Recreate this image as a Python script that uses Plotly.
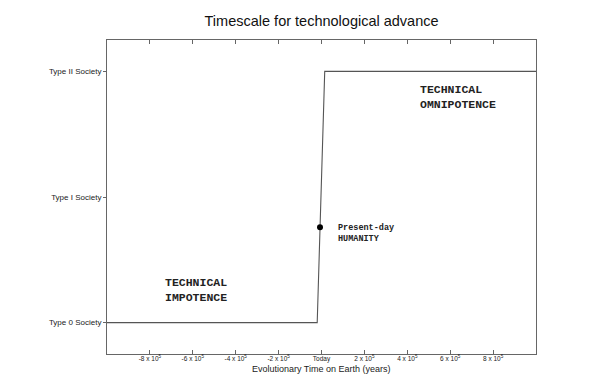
import plotly.graph_objects as go

# Data
time_years = [-1.0e6, -2.0e4, 1.5e4, 1.0e6]
society_level = [0, 0, 2, 2]
present_x = [-7.0e3]
present_y = [0.76]

x_tick_vals = [-8e5, -6e5, -4e5, -2e5, 0, 2e5, 4e5, 6e5, 8e5]
x_tick_text = ["-8 x 10<sup>5</sup>", "-6 x 10<sup>5</sup>", "-4 x 10<sup>5</sup>",
               "-2 x 10<sup>5</sup>", "Today", "2 x 10<sup>5</sup>",
               "4 x 10<sup>5</sup>", "6 x 10<sup>5</sup>", "8 x 10<sup>5</sup>"]
y_tick_vals = [0, 1, 2]
y_tick_text = ["Type 0 Society", "Type I Society", "Type II Society"]
x_title = "Evolutionary Time on Earth (years)"

fig = go.Figure()
fig.add_trace(go.Scatter(x=time_years, y=society_level, mode="lines",
                         line=dict(color="#555555", width=1.1), hoverinfo="skip"))
fig.add_trace(go.Scatter(x=present_x, y=present_y, mode="markers",
                         marker=dict(color="black", size=6), hoverinfo="skip"))

mono = "Liberation Mono, Courier New, monospace"
fig.add_annotation(x=-5.85e5, y=0.26, text="<b>TECHNICAL<br>IMPOTENCE</b>",
                   showarrow=False, align="left", font=dict(family=mono, size=11.5, color="#222"))
fig.add_annotation(x=6.36e5, y=1.8, text="<b>TECHNICAL<br>OMNIPOTENCE</b>",
                   showarrow=False, align="left", font=dict(family=mono, size=11.5, color="#222"))
fig.add_annotation(x=6.8e4, y=0.71, text="<b>Present-day<br>HUMANITY</b>", xanchor="left",
                   showarrow=False, align="left", font=dict(family=mono, size=8.5, color="#222"))
fig.add_annotation(x=0.5, y=0, xref="paper", yref="paper", yanchor="middle", yshift=-15,
                   text=x_title, showarrow=False, font=dict(size=9, color="#222"))

fig.update_layout(
    width=603, height=381,
    margin=dict(l=99, r=75, t=32, b=35),
    paper_bgcolor="white", plot_bgcolor="white",
    showlegend=False,
    font=dict(family="Liberation Sans, Arial, sans-serif", color="#222"),
    title=dict(text="Timescale for technological advance", x=0.52, xanchor="center",
               y=0.967, yanchor="middle", font=dict(size=14.5, color="#111")),
)
fig.update_xaxes(range=[-1.0e6, 1.0e6], tickvals=x_tick_vals, ticktext=x_tick_text,
                 ticks="inside", ticklen=4, tickcolor="#666", tickfont=dict(size=6.5),
                 ticklabelstandoff=-2,
                 showline=True, linecolor="#666", linewidth=1, mirror="ticks",
                 showgrid=False, zeroline=False)
fig.update_yaxes(range=[-0.25, 2.25], tickvals=y_tick_vals, ticktext=y_tick_text,
                 ticks="outside", ticklen=3, tickcolor="#666", tickfont=dict(size=8),
                 showline=True, linecolor="#666", linewidth=1, mirror=True,
                 showgrid=False, zeroline=False)

fig.write_html("out.html")
